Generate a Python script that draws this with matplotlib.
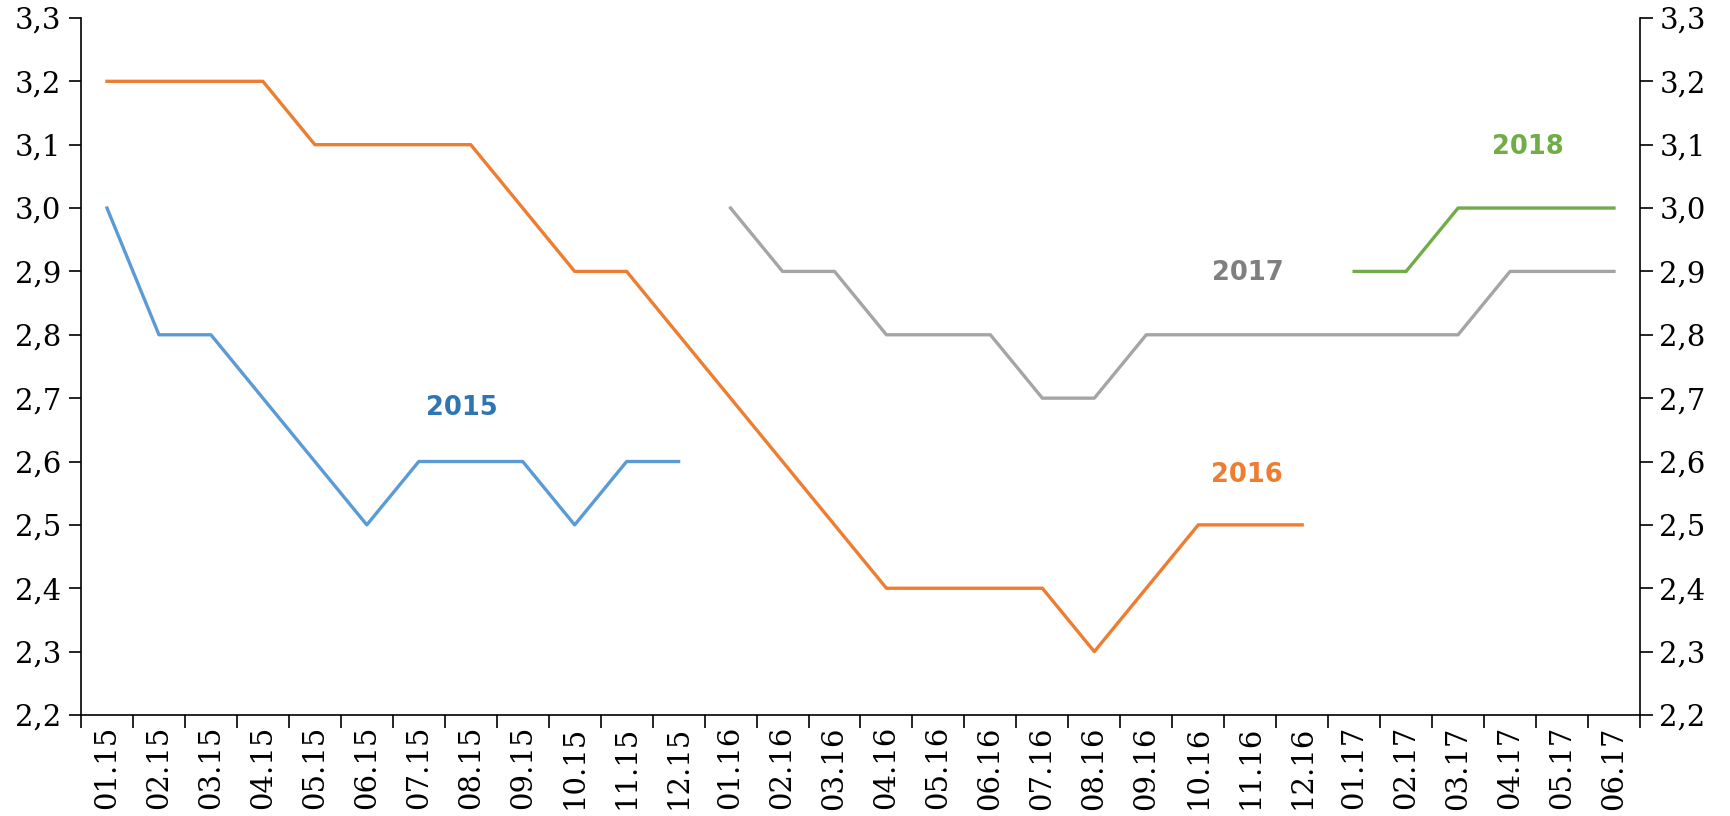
import matplotlib.pyplot as plt
import numpy as np

plt.rcParams['font.family'] = ['DejaVu Serif']

months = ['01.15', '02.15', '03.15', '04.15', '05.15', '06.15', '07.15', '08.15', '09.15', '10.15', '11.15', '12.15',
          '01.16', '02.16', '03.16', '04.16', '05.16', '06.16', '07.16', '08.16', '09.16', '10.16', '11.16', '12.16',
          '01.17', '02.17', '03.17', '04.17', '05.17', '06.17']

v2015 = [3.0, 2.8, 2.8, 2.7, 2.6, 2.5, 2.6, 2.6, 2.6, 2.5, 2.6, 2.6]
v2016 = [3.2, 3.2, 3.2, 3.2, 3.1, 3.1, 3.1, 3.1, 3.0, 2.9, 2.9, 2.8,
         2.7, 2.6, 2.5, 2.4, 2.4, 2.4, 2.4, 2.3, 2.4, 2.5, 2.5, 2.5]
v2017 = [3.0, 2.9, 2.9, 2.8, 2.8, 2.8, 2.7, 2.7, 2.8, 2.8, 2.8, 2.8,
         2.8, 2.8, 2.8, 2.9, 2.9, 2.9]
v2018 = [2.9, 2.9, 3.0, 3.0, 3.0, 3.0]

x = np.arange(len(months))

fig = plt.figure(figsize=(17.31, 8.16), dpi=100)
ax = fig.add_axes([0.0468, 0.1238, 0.9006, 0.8542])

#linie poszczegolnych lat
ax.plot(x[:12], v2015, color='#5B9BD5', lw=2.4)
ax.plot(x[:24], v2016, color='#ED7D31', lw=2.4)
ax.plot(x[12:], v2017, color='#A5A5A5', lw=2.4)
ax.plot(x[24:], v2018, color='#70AD47', lw=2.4)

#podpisy lat
lab = dict(fontsize=18.5, fontweight='bold', family='DejaVu Sans', ha='center', va='center')
ax.text(6.83, 2.684, '2015', color='#2E75B6', **lab)
ax.text(21.94, 2.579, '2016', color='#ED7D31', **lab)
ax.text(21.96, 2.898, '2017', color='#7F7F7F', **lab)
ax.text(27.34, 3.096, '2018', color='#70AD47', **lab)

ax.set_xlim(-0.5, len(months) - 0.5)
ax.set_ylim(2.2, 3.3)
yt = np.round(np.arange(2.2, 3.31, 0.1), 1)
ax.set_yticks(yt)
ax.set_yticklabels([f'{v:.1f}'.replace('.', ',') for v in yt])
ax.set_xticks(x)
ax.set_xticklabels(months, rotation=90)
ax.set_xticks(np.arange(-0.5, len(months), 1), minor=True)

ax.spines['top'].set_visible(False)
for s in ['left', 'right', 'bottom']:
    ax.spines[s].set_linewidth(1.2)
ax.tick_params(axis='y', left=True, right=True, labelleft=True, labelright=True,
               length=9, width=1.2, labelsize=21, pad=5)
ax.tick_params(axis='x', which='major', length=0, labelsize=21, pad=8)
ax.tick_params(axis='x', which='minor', length=9, width=1.2)

fig.savefig('out.png', dpi=100)
